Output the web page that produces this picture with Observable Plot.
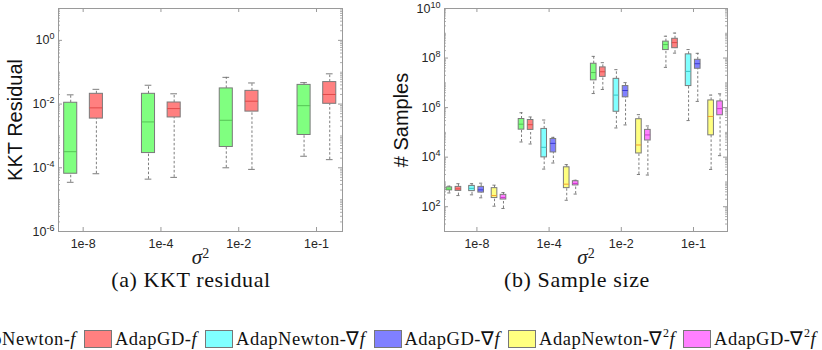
<!DOCTYPE html>
<html>
<head>
<meta charset="utf-8">
<script src="https://cdn.jsdelivr.net/npm/d3@7"></script>
<script src="https://cdn.jsdelivr.net/npm/@observablehq/plot@0.6"></script>
<style>
  html, body { margin: 0; padding: 0; background: #fff; }
  #fig { position: relative; width: 822px; height: 350px; overflow: hidden; background: #fff; }
  .panel { position: absolute; top: 0; }
  .cap { position: absolute; font-family: "Liberation Serif", serif; font-size: 22px; line-height: 22px; letter-spacing: 0.6px; white-space: nowrap; transform: translateX(-50%); color: #111; }
  #legend { position: absolute; top: 328px; left: -71px; display: flex; align-items: center; white-space: nowrap;
            font-family: "Liberation Serif", serif; font-size: 18.5px; letter-spacing: 0.5px; color: #111; }
  .item { display: flex; align-items: center; margin-right: 8px; }
  .sw { width: 28px; height: 18px; border: 1px solid #777; box-sizing: border-box; margin-right: 3px; }
  .item i { font-style: italic; }
  .item sup { font-size: 12px; position: relative; top: -1px; line-height: 0; }
</style>
</head>
<body>
<div id="fig">
  <div id="pa" class="panel" style="left:0px"></div>
  <div id="pb" class="panel" style="left:380px"></div>
  <div class="cap" style="left:191px; top:269px">(a) KKT residual</div>
  <div class="cap" style="left:577px; top:269px">(b) Sample size</div>
  <div id="legend"></div>
</div>
<script>
// σ² settings on the x axis of both panels
const sigma2Labels = ["1e-8", "1e-4", "1e-2", "1e-1"];

// Labelled decades on the y axes
const kktTickExponents = [-6, -4, -2, 0];
const sampleTickExponents = [2, 4, 6, 8, 10];

// Methods, in legend order
const methodNames = ["AdapNewton-f", "AdapGD-f", "AdapNewton-∇f", "AdapGD-∇f", "AdapNewton-∇²f", "AdapGD-∇²f"];
const methodFills = ["#80ff80", "#ff8080", "#80ffff", "#8080ff", "#ffff80", "#ff80ff"];
const methodMedians = ["#55c455", "#e04848", "#3cc4c4", "#3c3cd0", "#f0a030", "#d038d0"];

// Each box: [lower whisker, Q1, median, Q3, upper whisker], one per σ²
const kktAdapNewtonF = [
  [3.5e-5, 6.5e-5, 3.2e-4, 1.1e-2, 1.95e-2],
  [4.4e-5, 2.9e-4, 2.75e-3, 2.1e-2, 3.9e-2],
  [1.0e-4, 4.5e-4, 3.1e-3, 3.1e-2, 6.9e-2],
  [2.3e-4, 1.07e-3, 8.9e-3, 4.0e-2, 4.7e-2]
];
const kktAdapGDF = [
  [6.5e-5, 3.5e-3, 7.6e-3, 2.1e-2, 2.9e-2],
  [5.0e-5, 3.8e-3, 7.2e-3, 1.12e-2, 2.1e-2],
  [8.9e-5, 5.8e-3, 1.23e-2, 2.6e-2, 4.6e-2],
  [1.8e-4, 1.02e-2, 2.0e-2, 4.9e-2, 8.9e-2]
];

const samplesAdapNewtonF = [
  [360, 457, 513, 603, 676],
  [4.1e4, 1.29e5, 2.14e5, 3.47e5, 6.2e5],
  [3.7e6, 1.26e7, 2.6e7, 5.9e7, 1.17e8],
  [4.2e7, 2.1e8, 3.5e8, 4.6e8, 7.6e8]
];
const samplesAdapGDF = [
  [282, 436, 525, 631, 851],
  [3.4e4, 1.26e5, 2.04e5, 3.16e5, 4.2e5],
  [5.4e6, 1.74e7, 2.8e7, 4.2e7, 6.5e7],
  [1.58e8, 2.5e8, 4.2e8, 6.0e8, 1.02e9]
];
const samplesAdapNewtonGrad = [
  [302, 427, 550, 692, 851],
  [3.3e3, 9.8e3, 2.5e4, 1.38e5, 3.16e5],
  [1.51e5, 6.8e5, 3.2e6, 1.45e7, 3.4e7],
  [3.0e5, 7.4e6, 2.9e7, 1.41e8, 2.2e8]
];
const samplesAdapGDGrad = [
  [229, 372, 479, 631, 891],
  [5.8e3, 1.55e4, 3.6e4, 5.4e4, 6.3e4],
  [2.0e5, 2.6e6, 4.9e6, 7.4e6, 1.02e7],
  [1.78e6, 3.7e7, 5.9e7, 8.5e7, 1.55e8]
];
const samplesAdapNewtonHess = [
  [105, 224, 282, 562, 741],
  [182, 562, 813, 3.9e3, 5.0e3],
  [2.0e3, 1.41e4, 3.1e4, 3.4e5, 5.2e5],
  [3.2e3, 7.6e4, 4.4e5, 1.95e6, 3.2e6]
];
const samplesAdapGDHess = [
  [85, 195, 234, 302, 372],
  [324, 724, 871, 1.07e3, 1.17e3],
  [1.9e3, 4.7e4, 7.9e4, 1.26e5, 1.82e5],
  [1.15e4, 4.9e5, 9.1e5, 1.78e6, 3.6e6]
];

// Flatten a list of per-method box arrays into rows for the marks
function boxRows(seriesList, methodIndex) {
  return seriesList.flatMap((boxes, s) =>
    boxes.map(([lo, q1, med, q3, hi], g) => ({ group: g + 1, method: methodIndex[s], lo, q1, med, q3, hi }))
  );
}

// 2..9 × 10^k between the domain ends
function minorTicks([lo, hi]) {
  const out = [];
  for (let e = Math.floor(Math.log10(lo)); e < Math.ceil(Math.log10(hi)); e++)
    for (let m = 2; m <= 9; m++) { const v = m * Math.pow(10, e); if (v > lo && v < hi) out.push(v); }
  return out;
}
function decades([lo, hi]) {
  const out = [];
  for (let e = Math.ceil(Math.log10(lo)); e <= Math.floor(Math.log10(hi)); e++) out.push(Math.pow(10, e));
  return out;
}

// turn "base^exp" text into base + raised tspan
function raiseExponents(selection, size, shift) {
  selection.each(function () {
    const [base, exp] = this.textContent.split("^");
    const t = d3.select(this);
    t.text(base);
    t.append("tspan").attr("dy", shift).attr("font-size", size).attr("font-style", "normal").text(exp);
  });
}

function boxPanel({ rows, slot, halfWidth, capHalf, xDomain, yDomain, tickExponents, yLabel, width, marginLeft, marginRight }) {
  const height = 270, marginTop = 8, marginBottom = 39;
  const fw = width - marginLeft - marginRight, fh = height - marginTop - marginBottom;
  const cx = d => d.group + slot[d.method];
  const groups = sigma2Labels.map((_, i) => i + 1);
  const major = tickExponents.map(e => Math.pow(10, e));
  const minor = minorTicks(yDomain).concat(decades(yDomain).filter(v => !major.includes(v)));
  const gray = "#9a9a9a";
  const whisker = "#6e6e6e";

  const svg = Plot.plot({
    width, height, marginLeft, marginRight, marginTop, marginBottom,
    style: { fontFamily: "'Liberation Sans', Arial, sans-serif", fontSize: "12.5px", color: "#262626", background: "white", overflow: "visible" },
    x: { type: "linear", domain: xDomain },
    y: { type: "log", domain: yDomain },
    marks: [
      // inward tick marks on all four sides, minor log ticks on left and right
      Plot.tickY(minor, { y: d => d, insetRight: fw - 2, stroke: gray, strokeWidth: 0.8 }),
      Plot.tickY(minor, { y: d => d, insetLeft: fw - 2, stroke: gray, strokeWidth: 0.8 }),
      Plot.tickY(major, { y: d => d, insetRight: fw - 4, stroke: gray }),
      Plot.tickY(major, { y: d => d, insetLeft: fw - 4, stroke: gray }),
      Plot.tickX(groups, { x: d => d, insetTop: fh - 4, stroke: gray }),
      Plot.tickX(groups, { x: d => d, insetBottom: fh - 4, stroke: gray }),
      // whiskers
      Plot.ruleX(rows, { x: cx, y1: "q3", y2: "hi", stroke: whisker, strokeWidth: 0.9, strokeDasharray: "2.5,2" }),
      Plot.ruleX(rows, { x: cx, y1: "lo", y2: "q1", stroke: whisker, strokeWidth: 0.9, strokeDasharray: "2.5,2" }),
      Plot.ruleY(rows, { y: "hi", x1: d => cx(d) - capHalf, x2: d => cx(d) + capHalf, stroke: whisker, strokeWidth: 0.9 }),
      Plot.ruleY(rows, { y: "lo", x1: d => cx(d) - capHalf, x2: d => cx(d) + capHalf, stroke: whisker, strokeWidth: 0.9 }),
      // boxes and medians
      Plot.rect(rows, { x1: d => cx(d) - halfWidth, x2: d => cx(d) + halfWidth, y1: "q1", y2: "q3",
                        fill: d => methodFills[d.method], stroke: "#7a7a7a", strokeWidth: 1 }),
      Plot.ruleY(rows, { y: "med", x1: d => cx(d) - halfWidth, x2: d => cx(d) + halfWidth,
                         stroke: d => methodMedians[d.method], strokeWidth: 1 }),
      Plot.frame({ stroke: gray, strokeWidth: 1 }),
      Plot.axisX(groups, { tickSize: 0, tickPadding: 8, tickFormat: d => sigma2Labels[d - 1], label: null, fill: "#262626" }),
      Plot.axisY(major, { tickSize: 0, tickPadding: 4, tickFormat: d => `10^${Math.round(Math.log10(d))}`, label: null, fill: "#262626" }),
      Plot.text([yLabel], { text: d => d, frameAnchor: "left", textAnchor: "middle", lineAnchor: "middle", rotate: -90, dx: -42.5, fontSize: 20, fill: "#111" }),
      Plot.text(["σ^2"], { text: d => d, frameAnchor: "bottom", textAnchor: "middle", lineAnchor: "middle", dy: 26, fontSize: 21,
                           fontFamily: "'Liberation Serif', serif", fontStyle: "italic", fill: "#222", className: "sigma-label" })
    ]
  });

  raiseExponents(d3.select(svg).selectAll('g[aria-label="y-axis tick label"] text'), "9px", "-0.55em");
  raiseExponents(d3.select(svg).selectAll('.sigma-label text'), "14px", "-0.45em");
  return svg;
}

const kktRows = boxRows([kktAdapNewtonF, kktAdapGDF], [0, 1]);
const sampleRows = boxRows(
  [samplesAdapNewtonF, samplesAdapGDF, samplesAdapNewtonGrad, samplesAdapGDGrad, samplesAdapNewtonHess, samplesAdapGDHess],
  [0, 1, 2, 3, 4, 5]
);

document.getElementById("pa").append(boxPanel({
  rows: kktRows, slot: [-0.16, 0.17, 0, 0, 0, 0], halfWidth: 0.084, capHalf: 0.043,
  xDomain: [0.683, 4.334], yDomain: [1e-6, 10], tickExponents: kktTickExponents, yLabel: "KKT Residual",
  width: 400, marginLeft: 58, marginRight: 58
}));

document.getElementById("pb").append(boxPanel({
  rows: sampleRows, slot: [-0.382, -0.256, -0.068, 0.059, 0.244, 0.368], halfWidth: 0.039, capHalf: 0.022,
  xDomain: [0.551, 4.471], yDomain: [10, 1e10], tickExponents: sampleTickExponents, yLabel: "# Samples",
  width: 442, marginLeft: 64, marginRight: 95
}));

// legend: swatch + method name (italic f, superscript 2)
const legend = d3.select("#legend");
methodNames.forEach((name, i) => {
  const item = legend.append("div").attr("class", "item");
  item.append("div").attr("class", "sw").style("background", methodFills[i]);
  const label = item.append("span");
  const head = name.slice(0, -1).replace("²", "");
  label.append("span").text(head);
  if (name.includes("²")) label.append("sup").text("2");
  label.append("i").text("f");
});
</script>
</body>
</html>
